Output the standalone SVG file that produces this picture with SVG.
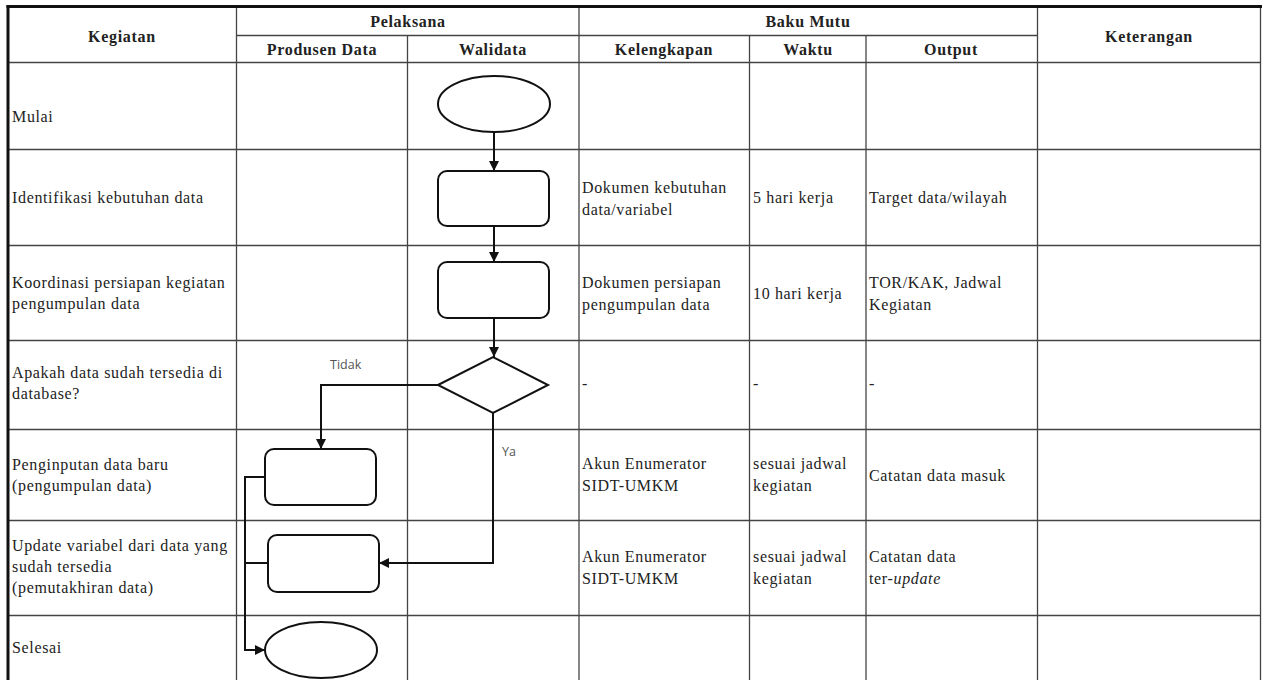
<svg xmlns="http://www.w3.org/2000/svg" width="1262" height="680" viewBox="0 0 1262 680">
<style>
.bg{fill:#ffffff}
.grid{stroke:#444;stroke-width:1.3;fill:none}
.outer{stroke:#111;stroke-width:3;fill:none}
.shape{fill:#fff;stroke:#111;stroke-width:2}
.conn{fill:none;stroke:#111;stroke-width:2}
.hd{font-family:"Liberation Serif","Times New Roman",serif;font-size:16px;font-weight:bold;fill:#222;text-anchor:middle;letter-spacing:0.7px}
.tx{font-family:"Liberation Serif","Times New Roman",serif;font-size:16px;fill:#222;letter-spacing:0.65px}
.lb{font-family:"Open Sans","DejaVu Sans",sans-serif;font-size:12.5px;fill:#555}
</style>
<defs>
<marker id="arr" markerUnits="userSpaceOnUse" markerWidth="11" markerHeight="11" refX="10" refY="5" orient="auto">
<path d="M0,0 L10,5 L0,10 Z" fill="#111"/>
</marker>
</defs>
<rect class="bg" x="0" y="0" width="1262" height="680"/>
<g id="table">
<line class="grid" x1="8" y1="62.5" x2="1261" y2="62.5"/>
<line class="grid" x1="8" y1="149.5" x2="1261" y2="149.5"/>
<line class="grid" x1="8" y1="245.5" x2="1261" y2="245.5"/>
<line class="grid" x1="8" y1="340.5" x2="1261" y2="340.5"/>
<line class="grid" x1="8" y1="429.5" x2="1261" y2="429.5"/>
<line class="grid" x1="8" y1="520.5" x2="1261" y2="520.5"/>
<line class="grid" x1="8" y1="615.5" x2="1261" y2="615.5"/>
<line class="grid" x1="236.5" y1="35.5" x2="1037.5" y2="35.5"/>
<line class="grid" x1="236.5" y1="6" x2="236.5" y2="680"/>
<line class="grid" x1="407.5" y1="35.5" x2="407.5" y2="680"/>
<line class="grid" x1="579" y1="6" x2="579" y2="680"/>
<line class="grid" x1="749.5" y1="35.5" x2="749.5" y2="680"/>
<line class="grid" x1="866" y1="35.5" x2="866" y2="680"/>
<line class="grid" x1="1037.5" y1="6" x2="1037.5" y2="680"/>
<line class="grid" x1="1260.5" y1="6" x2="1260.5" y2="680"/>
<line class="outer" x1="6.5" y1="6.5" x2="1262" y2="6.5"/>
<line class="outer" x1="8" y1="5" x2="8" y2="680"/>
<text class="hd" x="122" y="42">Kegiatan</text>
<text class="hd" x="408" y="27">Pelaksana</text>
<text class="hd" x="322" y="55">Produsen Data</text>
<text class="hd" x="493" y="55">Walidata</text>
<text class="hd" x="808" y="27">Baku Mutu</text>
<text class="hd" x="664" y="55">Kelengkapan</text>
<text class="hd" x="808" y="55">Waktu</text>
<text class="hd" x="951" y="55">Output</text>
<text class="hd" x="1149" y="42">Keterangan</text>
</g>
<g id="col-kegiatan">
<text class="tx" x="12" y="122">Mulai</text>
<text class="tx" x="12" y="203">Identifikasi kebutuhan data</text>
<text class="tx" x="12" y="288">Koordinasi persiapan kegiatan</text>
<text class="tx" x="12" y="309">pengumpulan data</text>
<text class="tx" x="12" y="378">Apakah data sudah tersedia di</text>
<text class="tx" x="12" y="399">database?</text>
<text class="tx" x="12" y="470">Penginputan data baru</text>
<text class="tx" x="12" y="491">(pengumpulan data)</text>
<text class="tx" x="12" y="551">Update variabel dari data yang</text>
<text class="tx" x="12" y="572">sudah tersedia</text>
<text class="tx" x="12" y="593">(pemutakhiran data)</text>
<text class="tx" x="12" y="653">Selesai</text>
</g>
<g id="col-kelengkapan">
<text class="tx" x="582" y="193">Dokumen kebutuhan</text>
<text class="tx" x="582" y="215">data/variabel</text>
<text class="tx" x="582" y="288">Dokumen persiapan</text>
<text class="tx" x="582" y="310">pengumpulan data</text>
<text class="tx" x="582" y="389">-</text>
<text class="tx" x="582" y="469">Akun Enumerator</text>
<text class="tx" x="582" y="491">SIDT-UMKM</text>
<text class="tx" x="582" y="562">Akun Enumerator</text>
<text class="tx" x="582" y="584">SIDT-UMKM</text>
</g>
<g id="col-waktu">
<text class="tx" x="753" y="203">5 hari kerja</text>
<text class="tx" x="753" y="299">10 hari kerja</text>
<text class="tx" x="753" y="389">-</text>
<text class="tx" x="753" y="469">sesuai jadwal</text>
<text class="tx" x="753" y="491">kegiatan</text>
<text class="tx" x="753" y="562">sesuai jadwal</text>
<text class="tx" x="753" y="584">kegiatan</text>
</g>
<g id="col-output">
<text class="tx" x="869" y="203">Target data/wilayah</text>
<text class="tx" x="869" y="288">TOR/KAK, Jadwal</text>
<text class="tx" x="869" y="310">Kegiatan</text>
<text class="tx" x="869" y="389">-</text>
<text class="tx" x="869" y="481">Catatan data masuk</text>
<text class="tx" x="869" y="562">Catatan data</text>
<text class="tx" x="869" y="584">ter-<tspan font-style="italic">update</tspan></text>
</g>
<g id="connectors">
<line class="conn" x1="494" y1="132" x2="494" y2="171" marker-end="url(#arr)"/>
<line class="conn" x1="494" y1="226" x2="494" y2="262" marker-end="url(#arr)"/>
<line class="conn" x1="494" y1="318" x2="494" y2="357" marker-end="url(#arr)"/>
<polyline class="conn" points="438,385 321,385 321,449" marker-end="url(#arr)"/>
<polyline class="conn" points="493,413 493,563 379,563" marker-end="url(#arr)"/>
<polyline class="conn" points="265,477 245,477 245,650 265,650" marker-end="url(#arr)"/>
<line class="conn" x1="268" y1="563" x2="245" y2="563"/>
<text class="lb" x="330" y="369">Tidak</text>
<text class="lb" x="502" y="456">Ya</text>
</g>
<g id="n-mulai"><ellipse class="shape" cx="494" cy="104" rx="56" ry="28"/></g>
<g id="n-identifikasi"><rect class="shape" x="438" y="171" width="111" height="55" rx="9"/></g>
<g id="n-koordinasi"><rect class="shape" x="438" y="262" width="111" height="56" rx="9"/></g>
<g id="n-keputusan"><polygon class="shape" points="438,385 493,357 548,385 493,413"/></g>
<g id="n-penginputan"><rect class="shape" x="265" y="449" width="111" height="56" rx="9"/></g>
<g id="n-update"><rect class="shape" x="268" y="535" width="111" height="57" rx="9"/></g>
<g id="n-selesai"><ellipse class="shape" cx="321" cy="650" rx="56" ry="28"/></g>
</svg>
